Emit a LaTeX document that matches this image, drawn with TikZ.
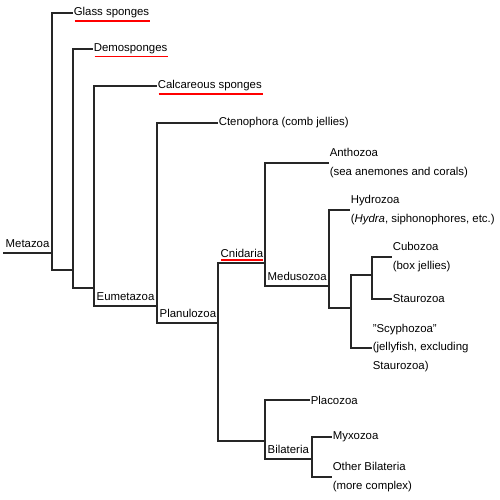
\documentclass[tikz,border=0pt]{standalone}
\usepackage{fontspec}
\setmainfont{Liberation Sans}

\begin{document}
\begin{tikzpicture}[x=1pt,y=-1pt,every node/.style={font=\fontsize{11.4}{18.3}\selectfont},
  br/.style={line width=1.2pt,black!85},leaf/.style={anchor=west,inner sep=0.6pt,align=left},
  clade/.style={anchor=base west,inner sep=0pt,xshift=2.5pt,yshift=5.5pt},ul/.style={red,line width=1.4pt}]
%\draw [help lines] (0,0) grid (500,500);
\useasboundingbox (0,0) rectangle (500,500);
\coordinate (root) at (3,253); \coordinate (m) at (52,253); \coordinate (d) at (73,270); \coordinate (e) at (94,288); \coordinate (p) at (157,306); \coordinate (q) at (218,323);
\coordinate (c) at (265,263); \coordinate (h) at (329,286); \coordinate (s) at (351,308); \coordinate (t) at (372,275); \coordinate (r) at (265,441); \coordinate (u) at (312,459);
\node[leaf] (glass) at (73,13) {Glass sponges}; \node[leaf] (demo) at (93,49) {Demosponges}; \node[leaf] (calc) at (157,86) {Calcareous sponges}; \node[leaf] (cten) at (218,123) {Ctenophora (comb jellies)};
\node[leaf] (antho) at (329,163) {Anthozoa\\(sea anemones and corals)}; \node[leaf] (hydro) at (350,210) {Hydrozoa\\(\textit{Hydra}, siphonophores, etc.)};
\node[leaf] (cubo) at (392,257) {Cubozoa\\(box jellies)}; \node[leaf] (stauro) at (392,299) {Staurozoa}; \node[leaf] (scypho) at (372,348) {"Scyphozoa"\\(jellyfish, excluding\\Staurozoa)};
\node[leaf] (placo) at (310,400) {Placozoa}; \node[leaf] (myxo) at (332,437) {Myxozoa}; \node[leaf] (other) at (332,477) {Other Bilateria\\(more complex)};
\node[clade] (metazoa) at (root) {Metazoa}; \node[clade] (eumetazoa) at (e |- p) {Eumetazoa}; \node[clade] (planulozoa) at (p |- q) {Planulozoa}; \node[clade] (cnidaria) at (q |- c) {Cnidaria};
\node[clade] (medusozoa) at (c |- h) {Medusozoa}; \node[clade] (bilateria) at (r |- u) {Bilateria};
\draw [br] (root) -- (m); \draw [br] (m) |- (glass.west); \draw [br] (m) |- (d); \draw [br] (d) |- (demo.west); \draw [br] (d) |- (e); \draw [br] (e) |- (calc.west); \draw [br] (e) |- (p);
\draw [br] (p) |- (cten.west); \draw [br] (p) |- (q); \draw [br] (q) |- (c); \draw [br] (q) |- (r); \draw [br] (c) |- (antho.west); \draw [br] (c) |- (h); \draw [br] (h) |- (hydro.west); \draw [br] (h) |- (s);
\draw [br] (s) |- (t); \draw [br] (s) |- (scypho.west); \draw [br] (t) |- (cubo.west); \draw [br] (t) |- (stauro.west); \draw [br] (r) |- (placo.west); \draw [br] (r) |- (u); \draw [br] (u) |- (myxo.west); \draw [br] (u) |- (other.west);
\draw [ul] ([xshift=1.5pt,yshift=-1.8pt]glass.south west) -- ([yshift=-1.8pt]glass.south east); \draw [ul] ([xshift=1.5pt,yshift=-1.8pt]demo.south west) -- ([yshift=-1.8pt]demo.south east);
\draw [ul] ([xshift=1.5pt,yshift=-1.8pt]calc.south west) -- ([yshift=-1.8pt]calc.south east); \draw [ul] ([yshift=-2pt]cnidaria.south west) -- ([yshift=-2pt]cnidaria.south east);
\end{tikzpicture}
\end{document}
